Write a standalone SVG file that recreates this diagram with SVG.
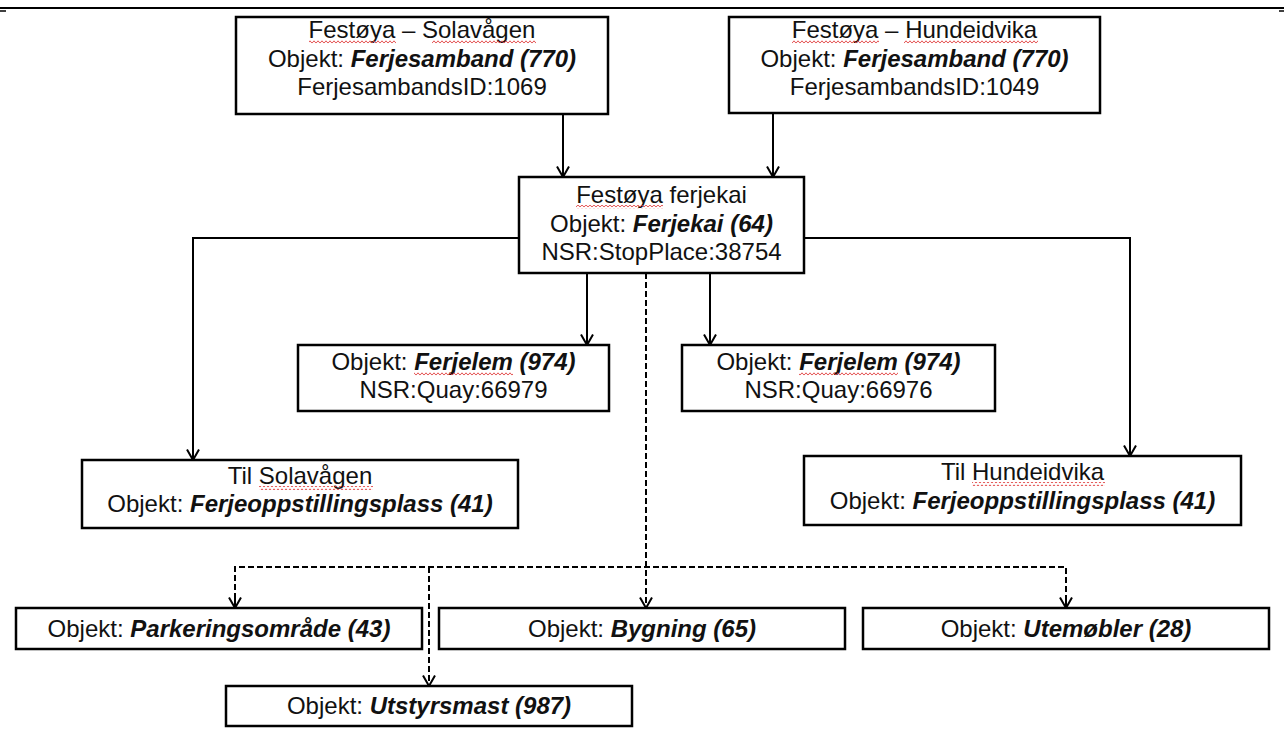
<svg xmlns="http://www.w3.org/2000/svg" width="1284" height="735" viewBox="0 0 1284 735">
<style>
.box{fill:#fff;stroke:#000;stroke-width:2.5}
.t{font-family:"Liberation Sans",Arial,sans-serif;font-size:24px;fill:#111;text-anchor:middle}
.b{font-weight:bold;font-style:italic}
.c{fill:none;stroke:#000;stroke-width:2}
.d{fill:none;stroke:#000;stroke-width:2;stroke-dasharray:6,3}
.sq{fill:url(#squig)}
</style>
<defs>
<marker id="arr" markerUnits="userSpaceOnUse" markerWidth="14" markerHeight="14" viewBox="0 0 14 14" refX="12" refY="7" orient="auto">
<path d="M1.5,1 L12,7 L1.5,13" fill="none" stroke="#000" stroke-width="2"/>
</marker>
<pattern id="squig" patternUnits="userSpaceOnUse" width="4" height="4">
<path d="M0,3.2 L2,0.8 L4,3.2" fill="none" stroke="#e04040" stroke-width="0.9"/>
</pattern>
</defs>
<g id="header">
<line x1="0" y1="8" x2="1284" y2="8" stroke="#000" stroke-width="2"/>
<line x1="0" y1="11" x2="6" y2="11" stroke="#000" stroke-width="1.5"/>
<line x1="1279" y1="11" x2="1284" y2="11" stroke="#000" stroke-width="1.5"/>
</g>
<g id="connectors">
<line class="c" x1="563" y1="114" x2="563" y2="177" marker-end="url(#arr)"/>
<line class="c" x1="773" y1="113" x2="773" y2="177" marker-end="url(#arr)"/>
<polyline class="c" points="519,238 193,238 193,460" marker-end="url(#arr)"/>
<polyline class="c" points="804,238 1130,238 1130,456" marker-end="url(#arr)"/>
<line class="c" x1="587" y1="273" x2="587" y2="345" marker-end="url(#arr)"/>
<line class="c" x1="710" y1="273" x2="710" y2="345" marker-end="url(#arr)"/>
<line class="d" x1="646" y1="273" x2="646" y2="608" marker-end="url(#arr)"/>
<polyline class="d" points="235,608 235,567 1066,567 1066,608"/>
<line class="c" x1="235" y1="598" x2="235" y2="608" marker-end="url(#arr)"/>
<line class="c" x1="1066" y1="598" x2="1066" y2="608" marker-end="url(#arr)"/>
<line class="d" x1="429" y1="567" x2="429" y2="686" marker-end="url(#arr)"/>
</g>
<g id="n_solavagen_samband">
<rect class="box" x="236" y="17" width="372" height="97"/>
<text class="t" x="422" y="38">Festøya – Solavågen</text>
<text class="t" x="422" y="67">Objekt: <tspan class="b">Ferjesamband (770)</tspan></text>
<text class="t" x="422" y="95">FerjesambandsID:1069</text>
<rect class="sq" x="309" y="40" width="87" height="4"/>
<rect class="sq" x="432" y="40" width="104" height="4"/>
</g>
<g id="n_hundeidvika_samband">
<rect class="box" x="729" y="17" width="371" height="96"/>
<text class="t" x="914.5" y="38">Festøya – Hundeidvika</text>
<text class="t" x="914.5" y="67">Objekt: <tspan class="b">Ferjesamband (770)</tspan></text>
<text class="t" x="914.5" y="95">FerjesambandsID:1049</text>
<rect class="sq" x="792" y="40" width="87" height="4"/>
<rect class="sq" x="904" y="40" width="134" height="4"/>
</g>
<g id="n_ferjekai">
<rect class="box" x="519" y="177" width="285" height="96"/>
<text class="t" x="661.5" y="203">Festøya ferjekai</text>
<text class="t" x="661.5" y="232">Objekt: <tspan class="b">Ferjekai (64)</tspan></text>
<text class="t" x="661.5" y="260">NSR:StopPlace:38754</text>
<rect class="sq" x="576" y="205" width="87" height="4"/>
</g>
<g id="n_ferjelem1">
<rect class="box" x="298" y="345" width="311" height="66"/>
<text class="t" x="453.5" y="370">Objekt: <tspan class="b">Ferjelem (974)</tspan></text>
<text class="t" x="453.5" y="398">NSR:Quay:66979</text>
<rect class="sq" x="414" y="372" width="99" height="4"/>
</g>
<g id="n_ferjelem2">
<rect class="box" x="682" y="345" width="313" height="66"/>
<text class="t" x="838.5" y="370">Objekt: <tspan class="b">Ferjelem (974)</tspan></text>
<text class="t" x="838.5" y="398">NSR:Quay:66976</text>
<rect class="sq" x="799" y="372" width="99" height="4"/>
</g>
<g id="n_til_solavagen">
<rect class="box" x="82" y="460" width="436" height="68"/>
<text class="t" x="300" y="484">Til Solavågen</text>
<text class="t" x="300" y="512">Objekt: <tspan class="b">Ferjeoppstillingsplass (41)</tspan></text>
<rect class="sq" x="259" y="486" width="114" height="4"/>
</g>
<g id="n_til_hundeidvika">
<rect class="box" x="804" y="456" width="437" height="69"/>
<text class="t" x="1022.5" y="480">Til Hundeidvika</text>
<text class="t" x="1022.5" y="509">Objekt: <tspan class="b">Ferjeoppstillingsplass (41)</tspan></text>
<rect class="sq" x="972" y="482" width="133" height="4"/>
</g>
<g id="n_parkering">
<rect class="box" x="16" y="608" width="406" height="41"/>
<text class="t" x="219" y="637">Objekt: <tspan class="b">Parkeringsområde (43)</tspan></text>
</g>
<g id="n_bygning">
<rect class="box" x="439" y="608" width="406" height="41"/>
<text class="t" x="642" y="637">Objekt: <tspan class="b">Bygning (65)</tspan></text>
</g>
<g id="n_utemobler">
<rect class="box" x="863" y="608" width="406" height="41"/>
<text class="t" x="1066" y="637">Objekt: <tspan class="b">Utemøbler (28)</tspan></text>
</g>
<g id="n_utstyrsmast">
<rect class="box" x="226" y="686" width="406" height="40"/>
<text class="t" x="429" y="714">Objekt: <tspan class="b">Utstyrsmast (987)</tspan></text>
</g>
</svg>
